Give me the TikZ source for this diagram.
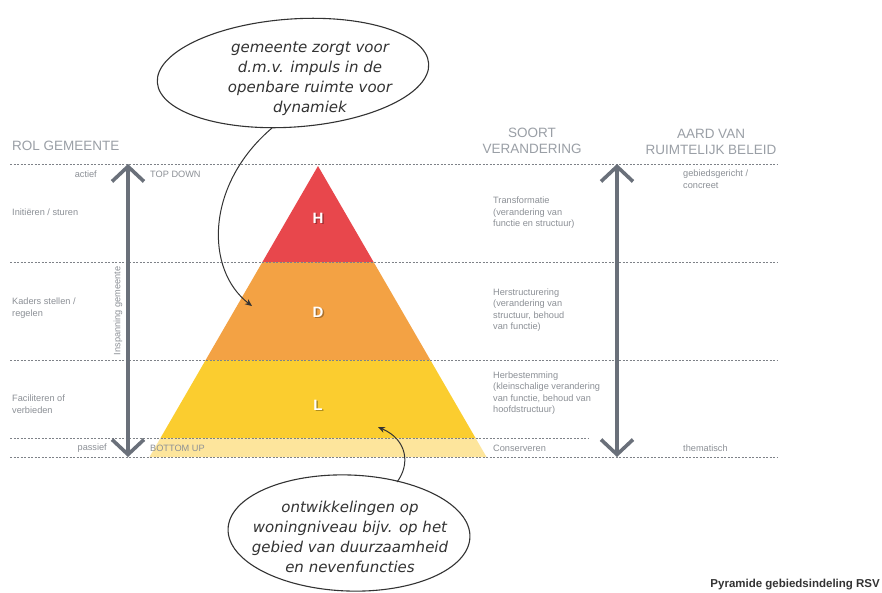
\documentclass[tikz,border=0pt]{standalone}
\usepackage{fontspec}
\setmainfont{Liberation Sans}
\newfontfamily\handfont{DejaVu Sans}
\usetikzlibrary{arrows.meta,shapes.geometric}
\definecolor{linegray}{HTML}{7E8288}
\definecolor{arrowgray}{HTML}{6A707A}
\definecolor{headgray}{HTML}{9A9FA6}
\definecolor{textgray}{HTML}{8C9096}
\definecolor{pyrH}{HTML}{E8474C}
\definecolor{pyrD}{HTML}{F3A244}
\definecolor{pyrL}{HTML}{FBCD2F}
\definecolor{pyrB}{HTML}{FDE59C}
\definecolor{handgray}{HTML}{333333}
\tikzset{
  gridline/.style={draw=linegray, line width=1pt, dash pattern=on 2.4pt off 1.1pt},
  bigarrow/.style={draw=arrowgray, line width=3.6pt,
    {Straight Barb[length=15pt,width=32pt]}-{Straight Barb[length=15pt,width=32pt]}},
  head/.style={font=\fontsize{13.5}{16.5}\selectfont, text=headgray, inner sep=0, align=center},
  small/.style={font=\fontsize{9.2}{11.5}\selectfont, text=textgray, inner sep=0, align=left},
  letter/.style={font=\bfseries\fontsize{15}{15}\selectfont, text=white, inner sep=0},
  lettershadow/.style={font=\bfseries\fontsize{15}{15}\selectfont, text=black, opacity=0.3, inner sep=0},
  bubble/.style={draw=handgray, line width=1.1pt, ellipse, inner sep=0},
  bubbletext/.style={font=\handfont\itshape\fontsize{15}{20}\selectfont, text=handgray, align=center, inner sep=0},
  callout/.style={draw=handgray, line width=1pt, -{Stealth[length=7pt,width=6pt]}},
}
\begin{document}
\begin{tikzpicture}[x=1pt,y=-1pt]
\useasboundingbox (0,0) rectangle (882,592);
\fill[white] (0,0) rectangle (882,592);

% pyramid
\begin{scope}
\clip (318,166) -- (149.5,457) -- (486.5,457) -- cycle;
\fill[pyrH] (140,160) rectangle (500,262);
\fill[pyrD] (140,262) rectangle (500,360);
\fill[pyrL] (140,360) rectangle (500,438);
\fill[pyrB] (140,438) rectangle (500,460);
\end{scope}
\node[lettershadow] (Hs) at (319.5,219.5) {H};
\node[letter] (H) at (318,218) {H};
\node[lettershadow] (Ds) at (319.5,313.5) {D};
\node[letter] (D) at (318,312) {D};
\node[lettershadow] (Ls) at (319.5,406.5) {L};
\node[letter] (L) at (318,405) {L};

% grid lines
\draw[gridline] (10,164) -- (777,164);
\draw[gridline] (10,262) -- (777,262);
\draw[gridline] (10,360) -- (777,360);
\draw[gridline] (10,438) -- (588,438);
\draw[gridline] (10,457) -- (777,457);

% big arrows
\coordinate (la1) at (128,164);
\coordinate (la2) at (128,457);
\coordinate (ra1) at (617,164);
\coordinate (ra2) at (617,457);
\draw[bigarrow] (la1) -- (la2);
\draw[bigarrow] (ra1) -- (ra2);
\node[small, rotate=90] (insp) at (118,311) {Inspanning gemeente};

% headers
\node[head, anchor=west] (hrol) at (12,146) {ROL GEMEENTE};
\node[head] (hsoort) at (532,141) {SOORT\\VERANDERING};
\node[head] (haard) at (711,142) {AARD VAN\\RUIMTELIJK BELEID};

% left column
\node[small, anchor=east] (actief) at (97,174) {actief};
\node[small, anchor=west] (topdown) at (150,174) {TOP DOWN};
\node[small, anchor=west] (init) at (12,212) {Initiëren / sturen};
\node[small, anchor=west] (kaders) at (12,308) {Kaders stellen /\\regelen};
\node[small, anchor=west] (facil) at (12,404) {Faciliteren of\\verbieden};
\node[small, anchor=east] (passief) at (107,448) {passief};
\node[small, anchor=west] (bottomup) at (150,448) {BOTTOM UP};

% right columns
\node[small, anchor=west] (transf) at (493,213) {Transformatie\\(verandering van\\functie en structuur)};
\node[small, anchor=west] (herstr) at (493,310) {Herstructurering\\(verandering van\\structuur, behoud\\van functie)};
\node[small, anchor=west] (herbest) at (493,393) {Herbestemming\\(kleinschalige verandering\\van functie, behoud van\\hoofdstructuur)};
\node[small, anchor=west] (conserv) at (493,448) {Conserveren};
\node[small, anchor=west] (gebied) at (683,179) {gebiedsgericht /\\concreet};
\node[small, anchor=west] (themat) at (683,448) {thematisch};

% callouts
\node[bubble, minimum width=272pt, minimum height=108pt, rotate=4] (b1) at (293,73) {};
\node[bubbletext] (t1) at (310,79) {gemeente zorgt voor\\d.m.v. impuls in de\\openbare ruimte voor\\dynamiek};
\coordinate (c1s) at (272,128);
\coordinate (c1e) at (252,306);
\draw[callout] (c1s) .. controls (205,185) and (205,270) .. (c1e);

\node[bubble, minimum width=242pt, minimum height=116pt, rotate=-2] (b2) at (349,533) {};
\node[bubbletext] (t2) at (350,537) {ontwikkelingen op\\woningniveau bijv. op het\\gebied van duurzaamheid\\en nevenfuncties};
\coordinate (c2s) at (397,482);
\coordinate (c2e) at (378,427);
\draw[callout] (c2s) .. controls (410,465) and (408,440) .. (c2e);

\node[font=\bfseries\fontsize{11.5}{12}\selectfont, text=black!80, anchor=east, inner sep=0] (cap) at (880,585) {Pyramide gebiedsindeling RSV};
\end{tikzpicture}
\end{document}
